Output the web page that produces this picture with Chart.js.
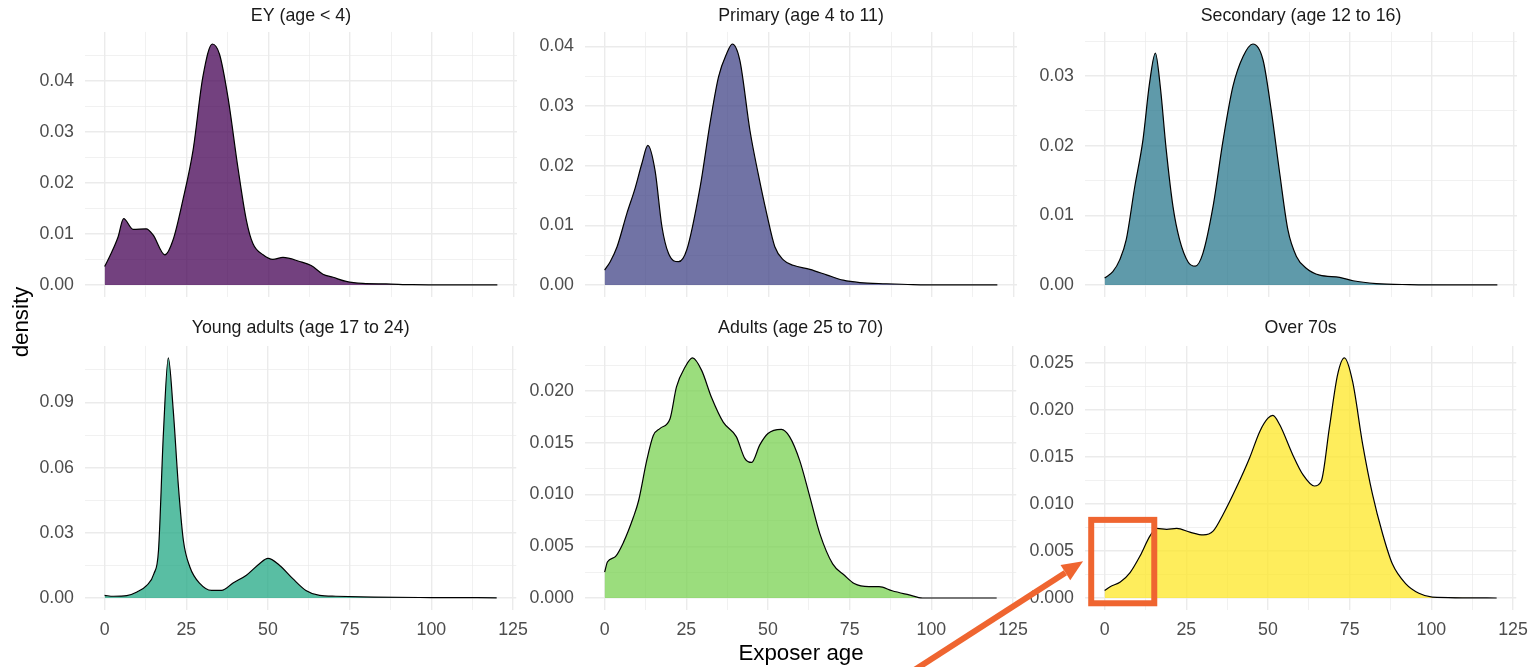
<!DOCTYPE html>
<html>
<head>
<meta charset="utf-8">
<script src="https://cdn.jsdelivr.net/npm/chart.js@4.4.1/dist/chart.umd.min.js"></script>
<style>
  html, body { margin: 0; padding: 0; background: #fff; }
  #page { position: relative; width: 1533px; height: 667px; overflow: hidden; font-family: 'Liberation Sans', Arial, sans-serif; }
  #page canvas { position: absolute; }
  .axis-title { position: absolute; font-size: 22.3px; line-height: 22px; color: #000; white-space: nowrap; }
  #xTitle { left: 801px; top: 642px; transform: translateX(-50%); }
  #yTitle { left: 21px; top: 322px; transform: translate(-50%, -50%) rotate(-90deg); }
  #overlay { left: 0; top: 0; pointer-events: none; }
</style>
</head>
<body>
<div id="page">
  <canvas id="c0"></canvas>
  <canvas id="c1"></canvas>
  <canvas id="c2"></canvas>
  <canvas id="c3"></canvas>
  <canvas id="c4"></canvas>
  <canvas id="c5"></canvas>
  <div class="axis-title" id="xTitle">Exposer age</div>
  <div class="axis-title" id="yTitle">density</div>
  <canvas id="overlay" width="1533" height="667"></canvas>
</div>
<script>
// ---- data ----
const ageTickLabels = ['0', '25', '50', '75', '100', '125'];

const ageEY = [0, 2, 4.1, 5.8, 8.7, 12.7, 14.8, 18.4, 20.9, 23.9, 27, 30, 32.9, 35.1, 37.7, 40.7, 43.3, 45.3, 48.4, 51.4, 54.5, 59.6, 63.1, 66.7, 69.8, 73.8, 78.9, 86, 94, 105, 120];
const densEY = [0.0036, 0.0062, 0.0094, 0.0130, 0.0109, 0.0110, 0.0098, 0.0059, 0.0088, 0.0166, 0.0263, 0.0407, 0.0472, 0.0452, 0.0367, 0.0231, 0.0127, 0.0081, 0.0059, 0.0050, 0.0054, 0.0046, 0.0038, 0.0021, 0.0015, 0.0007, 0.0003, 0.0002, 0.00005, 0, 0];

const agePrimary = [0, 1.7, 3.8, 6.8, 9.3, 11.4, 13.2, 15.4, 17.5, 19.5, 22.6, 25.1, 29.2, 32.2, 34.8, 37.3, 39, 41.3, 44.4, 46.9, 49.5, 52, 54.6, 57.6, 62.7, 67.8, 72.9, 78, 86, 94.2, 105, 120];
const densPrimary = [0.0025, 0.0039, 0.0064, 0.0120, 0.0162, 0.0204, 0.0234, 0.0192, 0.0098, 0.0053, 0.0039, 0.0059, 0.0165, 0.0271, 0.0349, 0.0388, 0.0404, 0.0377, 0.0259, 0.0187, 0.0120, 0.0064, 0.0042, 0.0033, 0.0026, 0.0017, 0.0008, 0.0004, 0.0002, 0.00005, 0, 0];

const ageSecondary = [0, 2.5, 4.6, 6.6, 9.2, 11.7, 13.7, 15.5, 17, 18.8, 20.9, 22.9, 25.5, 27.7, 30, 33.1, 36.2, 39.2, 42.3, 45.3, 48.4, 50.9, 53.5, 56, 58.6, 61.6, 65.7, 71.8, 75.9, 83, 93.2, 105, 120];
const densSecondary = [0.0010, 0.0019, 0.0036, 0.0065, 0.0141, 0.0208, 0.0289, 0.0333, 0.0285, 0.0195, 0.0112, 0.0065, 0.0033, 0.0027, 0.0045, 0.0112, 0.0208, 0.0285, 0.0328, 0.0346, 0.0323, 0.0251, 0.0160, 0.0079, 0.0041, 0.0024, 0.0014, 0.0011, 0.0006, 0.0002, 0.00005, 0, 0];

const ageYoung = [0, 2.7, 6.8, 9.9, 12.9, 15.1, 16.5, 18, 19.5, 21, 22.6, 24.1, 26.1, 29.2, 32.7, 35.8, 39.3, 43.4, 47.4, 50, 53.5, 57.6, 61.6, 65.8, 70.8, 82.5, 100, 120];
const densYoung = [0.0012, 0.0008, 0.0011, 0.0028, 0.0058, 0.0112, 0.0220, 0.0758, 0.1105, 0.0866, 0.0512, 0.0266, 0.0143, 0.0066, 0.0035, 0.0035, 0.0069, 0.0105, 0.0158, 0.0182, 0.0151, 0.0089, 0.0035, 0.0012, 0.0008, 0.0004, 0.0002, 0.0001];

const ageAdults = [0, 0.9, 3.3, 5.8, 8.8, 10.4, 12.9, 14.9, 17, 20, 22, 24.6, 26.9, 29.7, 32.7, 36.3, 40.3, 42.9, 45, 47.5, 50, 54.1, 56.6, 59.7, 62.8, 65.9, 69.8, 73.4, 76.4, 80.9, 84, 88, 93.2, 97.3, 120];
const densAdults = [0.0025, 0.0035, 0.0040, 0.0054, 0.0078, 0.0094, 0.0133, 0.0157, 0.0164, 0.0173, 0.0204, 0.0223, 0.0232, 0.0220, 0.0194, 0.0170, 0.0156, 0.0135, 0.0131, 0.0148, 0.0159, 0.0163, 0.0156, 0.0133, 0.0098, 0.0062, 0.0033, 0.0022, 0.0014, 0.0011, 0.0011, 0.0007, 0.0003, 0, 0];

const ageOver70 = [0, 1.7, 4.8, 7.8, 10.9, 13.9, 15.9, 19, 22.1, 26.1, 30.2, 33.2, 36.3, 40.3, 44.4, 47.5, 50, 51.5, 53.6, 57.6, 60.7, 64.2, 66.3, 68.8, 71.3, 73.4, 75.9, 79, 82, 85.1, 88.1, 92.2, 96.2, 100.3, 120];
const densOver70 = [0.0008, 0.0012, 0.0017, 0.0027, 0.0045, 0.0066, 0.0074, 0.0073, 0.0074, 0.0070, 0.0067, 0.0071, 0.0089, 0.0117, 0.0149, 0.0177, 0.0191, 0.0194, 0.0184, 0.0152, 0.0131, 0.0119, 0.0124, 0.0181, 0.0237, 0.0255, 0.0230, 0.0163, 0.0110, 0.0068, 0.0036, 0.0015, 0.0005, 0.0001, 0];

const yLabelsEY = ['0.00', '0.01', '0.02', '0.03', '0.04'];
const yLabelsPrimary = ['0.00', '0.01', '0.02', '0.03', '0.04'];
const yLabelsSecondary = ['0.00', '0.01', '0.02', '0.03'];
const yLabelsYoung = ['0.00', '0.03', '0.06', '0.09'];
const yLabelsAdults = ['0.000', '0.005', '0.010', '0.015', '0.020'];
const yLabelsOver70 = ['0.000', '0.005', '0.010', '0.015', '0.020', '0.025'];

const facetTitles = ['EY (age < 4)', 'Primary (age 4 to 11)', 'Secondary (age 12 to 16)',
                     'Young adults (age 17 to 24)', 'Adults (age 25 to 70)', 'Over 70s'];
const facetColors = ['rgba(68,1,84,0.75)', 'rgba(65,68,135,0.75)', 'rgba(42,120,142,0.75)',
                     'rgba(34,168,132,0.75)', 'rgba(122,209,81,0.75)', 'rgba(253,231,37,0.75)'];

// highlighted region in the "Over 70s" panel (annotation)
const boxAges = [-4.1, 15.2];
const boxDensity = [-0.00056, 0.0083];
const arrowFrom = [-62, -0.0085];
const arrowTo = [-6.6, 0.0039];

const panels = [
  { ages: ageEY, dens: densEY, yLabels: yLabelsEY },
  { ages: agePrimary, dens: densPrimary, yLabels: yLabelsPrimary },
  { ages: ageSecondary, dens: densSecondary, yLabels: yLabelsSecondary },
  { ages: ageYoung, dens: densYoung, yLabels: yLabelsYoung },
  { ages: ageAdults, dens: densAdults, yLabels: yLabelsAdults },
  { ages: ageOver70, dens: densOver70, yLabels: yLabelsOver70 }
];

// ---- layout ----
const FONT = "'Liberation Sans', Arial, sans-serif";
const colLeft = [0, 500, 1000];
const rowTop = [0, 314];
const rowHeight = [354, 353];
const xAxisHeight = [57, 57];
const titlePad = [{ top: 5.3, bottom: 5.3 }, { top: 3.3, bottom: 7.3 }];
const Y_AXIS_W = 85, PLOT_W = 432, PAD_R = 20;

// major ticks from labels plus minor ticks half way between
function tickList(labels, lo, hi) {
  const vals = labels.map(Number);
  const step = vals[1] - vals[0];
  const out = vals.map((v, i) => ({ value: v, text: labels[i], minor: false }));
  for (let i = 0; i < vals.length; i++) {
    const m = vals[i] + step / 2;
    if (m <= hi) out.push({ value: m, text: '', minor: true });
  }
  if (vals[0] - step / 2 >= lo) out.push({ value: vals[0] - step / 2, text: '', minor: true });
  return out.sort((a, b) => a.value - b.value);
}

const gridWidth = ctx => (ctx.tick && ctx.tick.minor ? 0.7 : 1.4);

const charts = panels.map((p, i) => {
  const row = Math.floor(i / 3), col = i % 3;
  const canvas = document.getElementById('c' + i);
  canvas.width = Y_AXIS_W + PLOT_W + PAD_R;
  canvas.height = rowHeight[row];
  canvas.style.left = colLeft[col] + 'px';
  canvas.style.top = rowTop[row] + 'px';

  const yMaxData = Math.max(...p.dens);
  const yMin = -0.05 * yMaxData, yMax = 1.05 * yMaxData;
  const xTicks = tickList(ageTickLabels, -6, 126);
  const yTicks = tickList(p.yLabels, yMin, yMax);

  return new Chart(canvas, {
    type: 'line',
    data: {
      datasets: [{
        data: p.ages.map((a, k) => ({ x: a, y: p.dens[k] })),
        borderColor: '#000000',
        borderWidth: 1.2,
        backgroundColor: facetColors[i],
        fill: 'origin',
        pointRadius: 0,
        cubicInterpolationMode: 'monotone'
      }]
    },
    options: {
      responsive: false,
      animation: false,
      events: [],
      layout: { padding: { left: 0, right: PAD_R, top: 0, bottom: 0 } },
      plugins: {
        legend: { display: false },
        tooltip: { enabled: false },
        title: {
          display: true,
          text: facetTitles[i],
          fullSize: false,
          color: '#1A1A1A',
          font: { family: FONT, size: 17.8, weight: 'normal' },
          padding: titlePad[row]
        }
      },
      scales: {
        x: {
          type: 'linear',
          min: -6,
          max: 126,
          border: { display: false },
          grid: { color: '#EBEBEB', lineWidth: gridWidth, drawTicks: false },
          ticks: {
            display: row === 1,
            autoSkip: false,
            maxRotation: 0,
            padding: 9,
            color: '#4D4D4D',
            font: { family: FONT, size: 17.8 },
            callback: (v, k, ticks) => ticks[k].text
          },
          afterBuildTicks: s => { s.ticks = xTicks.map(t => ({ ...t })); },
          afterFit: s => { s.height = xAxisHeight[row]; }
        },
        y: {
          type: 'linear',
          min: yMin,
          max: yMax,
          border: { display: false },
          grid: { color: '#EBEBEB', lineWidth: gridWidth, drawTicks: false },
          ticks: {
            autoSkip: false,
            padding: 11,
            color: '#4D4D4D',
            font: { family: FONT, size: 17.8 },
            callback: (v, k, ticks) => ticks[k].text
          },
          afterBuildTicks: s => { s.ticks = yTicks.map(t => ({ ...t })); },
          afterFit: s => { s.width = Y_AXIS_W; }
        }
      }
    }
  });
});

// ---- annotation: orange box + arrow on the "Over 70s" panel ----
(function drawAnnotation() {
  const ch = charts[5];
  const offX = colLeft[2], offY = rowTop[1];
  const px = v => ch.scales.x.getPixelForValue(v) + offX;
  const py = v => ch.scales.y.getPixelForValue(v) + offY;
  const ctx = document.getElementById('overlay').getContext('2d');
  const orange = '#EF6530';

  ctx.strokeStyle = orange;
  ctx.lineWidth = 6;
  ctx.strokeRect(px(boxAges[0]), py(boxDensity[1]),
                 px(boxAges[1]) - px(boxAges[0]), py(boxDensity[0]) - py(boxDensity[1]));

  const x0 = px(arrowFrom[0]), y0 = py(arrowFrom[1]);
  const x1 = px(arrowTo[0]), y1 = py(arrowTo[1]);
  const ang = Math.atan2(y1 - y0, x1 - x0);
  const headLen = 21, headHalf = 9;
  const bx = x1 - headLen * Math.cos(ang), by = y1 - headLen * Math.sin(ang);
  ctx.beginPath();
  ctx.moveTo(x0, y0);
  ctx.lineTo(bx, by);
  ctx.lineWidth = 6;
  ctx.stroke();
  ctx.beginPath();
  ctx.moveTo(x1, y1);
  ctx.lineTo(bx + headHalf * Math.sin(ang), by - headHalf * Math.cos(ang));
  ctx.lineTo(bx - headHalf * Math.sin(ang), by + headHalf * Math.cos(ang));
  ctx.closePath();
  ctx.fillStyle = orange;
  ctx.fill();
})();
</script>
</body>
</html>
